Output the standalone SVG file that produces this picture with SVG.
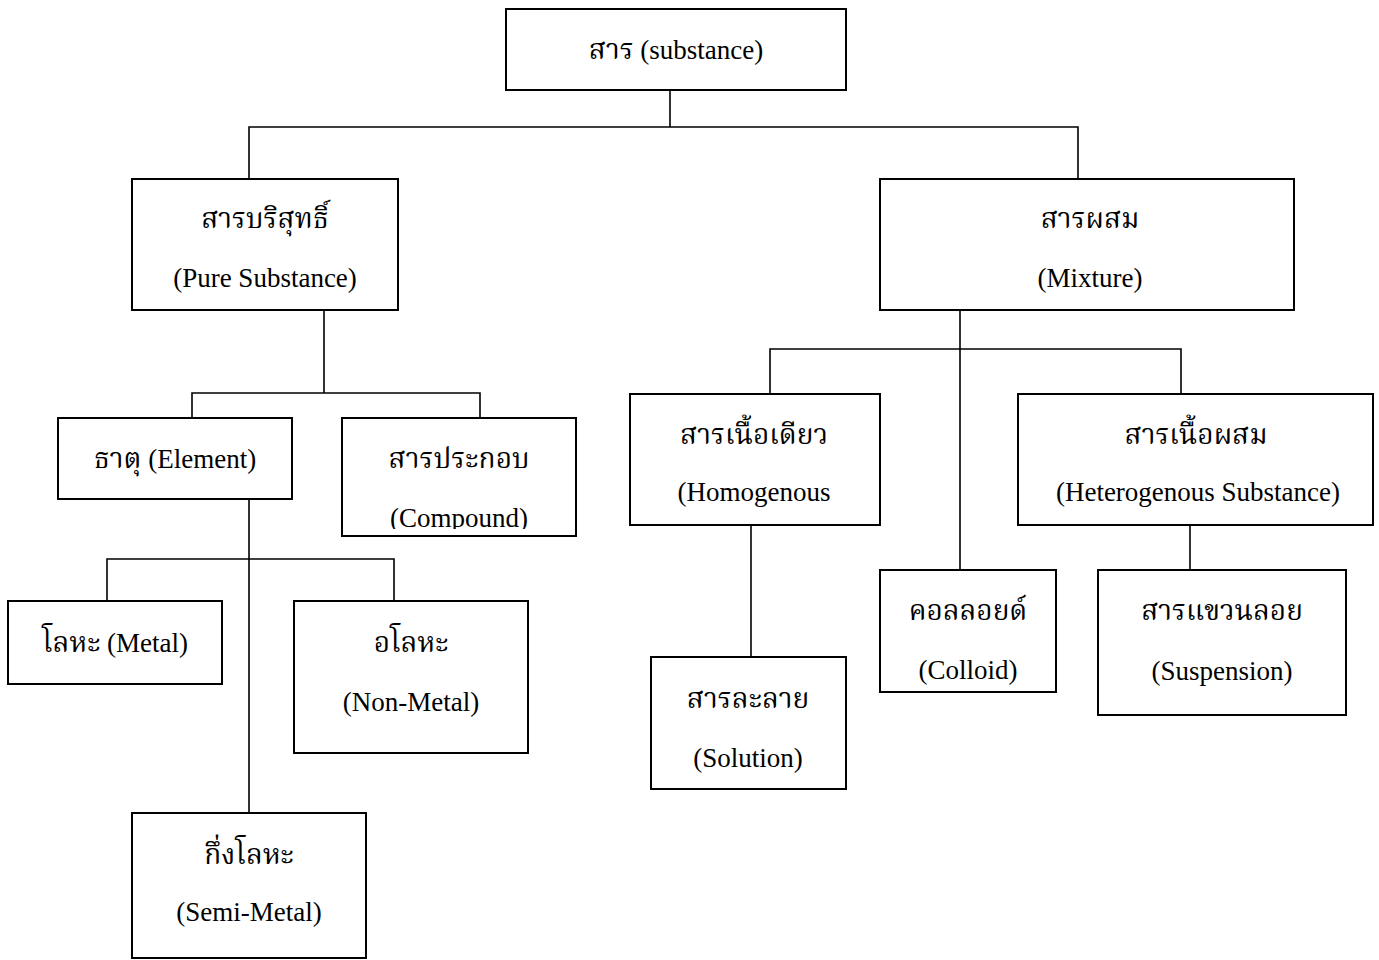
<svg xmlns="http://www.w3.org/2000/svg" width="1379" height="960" viewBox="0 0 1379 960">
<style>
.box{fill:#fff;stroke:#000;stroke-width:2}
.con{fill:none;stroke:#000;stroke-width:1.6}
text{font-family:"Liberation Serif","Noto Serif Thai","Noto Sans Thai",serif;font-size:27px;fill:#000;text-anchor:middle}
.th{font-size:28px}
</style>
<defs>
<clipPath id="clipCompound"><rect x="342" y="418" width="234" height="111"/></clipPath>
</defs>
<rect width="1379" height="960" fill="#fff"/>
<g id="connectors">
<path class="con" d="M670 90V127M249 179V127H1078V179"/>
<path class="con" d="M324 310V393M192 418V393H480V418"/>
<path class="con" d="M249 499V813M107 601V559H394V601"/>
<path class="con" d="M960 310V570M770 394V349H1181V394"/>
<path class="con" d="M751 525V657"/>
<path class="con" d="M1190 525V570"/>
</g>
<g id="substance">
<rect class="box" x="506" y="9" width="340" height="81"/>
<text x="676" y="59"><tspan class="th">สาร</tspan> (substance)</text>
</g>
<g id="pure">
<rect class="box" x="132" y="179" width="266" height="131"/>
<text class="th" x="265" y="228">สารบริสุทธิ์</text>
<text x="265" y="287">(Pure Substance)</text>
</g>
<g id="mixture">
<rect class="box" x="880" y="179" width="414" height="131"/>
<text class="th" x="1090" y="228">สารผสม</text>
<text x="1090" y="287">(Mixture)</text>
</g>
<g id="element">
<rect class="box" x="58" y="418" width="234" height="81"/>
<text x="175" y="468"><tspan class="th">ธาตุ</tspan> (Element)</text>
</g>
<g id="compound">
<rect class="box" x="342" y="418" width="234" height="118"/>
<text class="th" x="459" y="468">สารประกอบ</text>
<text x="459" y="527" clip-path="url(#clipCompound)">(Compound)</text>
</g>
<g id="metal">
<rect class="box" x="8" y="601" width="214" height="83"/>
<text x="115" y="652"><tspan class="th">โลหะ</tspan> (Metal)</text>
</g>
<g id="nonmetal">
<rect class="box" x="294" y="601" width="234" height="152"/>
<text class="th" x="411" y="652">อโลหะ</text>
<text x="411" y="711">(Non-Metal)</text>
</g>
<g id="semimetal">
<rect class="box" x="132" y="813" width="234" height="145"/>
<text class="th" x="249" y="864">กึ่งโลหะ</text>
<text x="249" y="921">(Semi-Metal)</text>
</g>
<g id="homogenous">
<rect class="box" x="630" y="394" width="250" height="131"/>
<text class="th" x="754" y="444">สารเนื้อเดียว</text>
<text x="754" y="501">(Homogenous</text>
</g>
<g id="heterogenous">
<rect class="box" x="1018" y="394" width="355" height="131"/>
<text class="th" x="1196" y="444">สารเนื้อผสม</text>
<text x="1198" y="501">(Heterogenous Substance)</text>
</g>
<g id="solution">
<rect class="box" x="651" y="657" width="195" height="132"/>
<text class="th" x="748" y="708">สารละลาย</text>
<text x="748" y="767">(Solution)</text>
</g>
<g id="colloid">
<rect class="box" x="880" y="570" width="176" height="122"/>
<text class="th" x="968" y="620">คอลลอยด์</text>
<text x="968" y="679">(Colloid)</text>
</g>
<g id="suspension">
<rect class="box" x="1098" y="570" width="248" height="145"/>
<text class="th" x="1222" y="620">สารแขวนลอย</text>
<text x="1222" y="680">(Suspension)</text>
</g>
</svg>
